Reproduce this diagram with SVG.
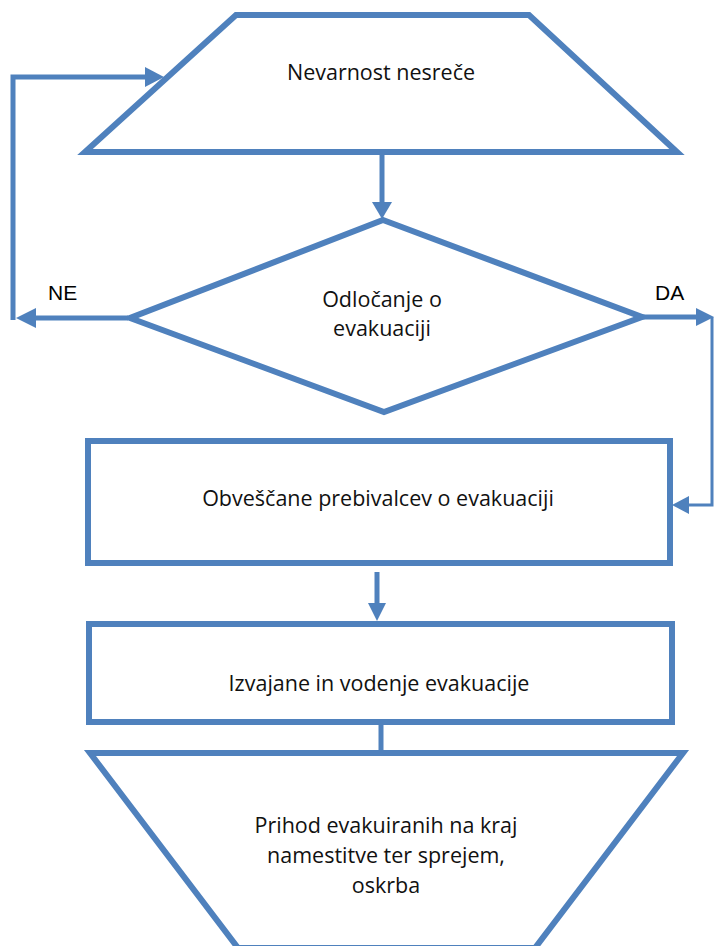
<svg xmlns="http://www.w3.org/2000/svg" width="714" height="946" viewBox="0 0 714 946">
<style>
.shape{fill:#fff;stroke:#4F81BD;stroke-width:6;stroke-linejoin:miter}
.line{fill:none;stroke:#4F81BD;stroke-width:5}
.thin{fill:none;stroke:#4F81BD;stroke-width:3}
.head{fill:#4F81BD;stroke:none}
.t{font-family:"Open Sans","Liberation Sans",sans-serif;font-size:21.5px;fill:#111;text-anchor:middle}
.lbl{font-family:"Liberation Sans",Arial,sans-serif;font-size:21px;fill:#000}
</style>
<rect width="714" height="946" fill="#fff"/>
<g id="connectors">
  <line class="line" x1="382" y1="152" x2="382" y2="204"/>
  <polygon class="head" points="372,202 392,202 382,219"/>
  <polyline class="line" points="128,318 33,318"/>
  <polygon class="head" points="36,308 36,328 16,318"/>
  <polyline class="line" points="13,320 13,77 148,77"/>
  <polygon class="head" points="145,67 145,87 164,77"/>
  <line class="line" x1="642" y1="317" x2="698" y2="317"/>
  <polygon class="head" points="696,308 696,326 714,317"/>
  <polyline class="thin" points="712,317 712,505 686,505"/>
  <polygon class="head" points="689,496 689,514 672,505"/>
  <line class="line" x1="377" y1="572" x2="377" y2="605"/>
  <polygon class="head" points="368,603 386,603 377,621"/>
  <line class="line" x1="381" y1="722" x2="381" y2="753"/>
</g>
<g id="n1">
  <polygon class="shape" points="236,15 529,15 677,152 85,152"/>
  <text class="t" x="381" y="80">Nevarnost nesreče</text>
</g>
<g id="n2">
  <polygon class="shape" points="383,220 642,317 384,412 130,318"/>
  <text class="t" x="382" y="307">Odločanje o</text>
  <text class="t" x="382" y="336">evakuaciji</text>
</g>
<g id="n3">
  <rect class="shape" x="88" y="441" width="582" height="122"/>
  <text class="t" x="378" y="506">Obveščane prebivalcev o evakuaciji</text>
</g>
<g id="n4">
  <rect class="shape" x="89" y="624" width="583" height="98"/>
  <text class="t" x="379" y="691">Izvajane in vodenje evakuacije</text>
</g>
<g id="n5">
  <polygon class="shape" points="90,753 683,753 535,948 238,948"/>
  <text class="t" x="386" y="833">Prihod evakuiranih na kraj</text>
  <text class="t" x="386" y="863">namestitve ter sprejem,</text>
  <text class="t" x="386" y="893">oskrba</text>
</g>
<g id="labels">
  <text class="lbl" x="48" y="300">NE</text>
  <text class="lbl" x="655" y="300">DA</text>
</g>
</svg>
